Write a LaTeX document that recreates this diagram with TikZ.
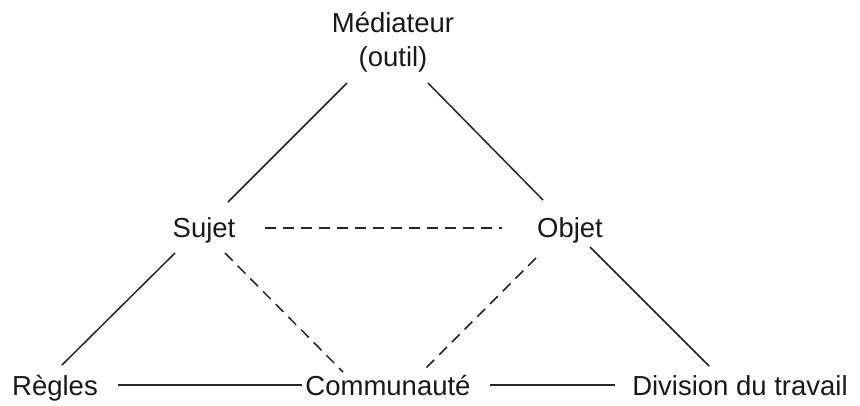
\documentclass[tikz,border=0pt]{standalone}
\usepackage{fontspec}
\setmainfont{Liberation Sans}
\begin{document}
\begin{tikzpicture}[x=1pt,y=-1pt,
  lbl/.style={inner sep=0pt,anchor=base,font=\fontsize{27.5}{34}\selectfont,text=black!90},
  link/.style={line width=1.5pt,draw=black!85},
  dlink/.style={link,dash pattern=on 11pt off 7pt}]
\useasboundingbox[fill=white] (0,0) rectangle (860,405);
\node[lbl,align=center] (med) at (393,66) {Médiateur\\(outil)};
\node[lbl] (sujet) at (204,237) {Sujet};
\node[lbl] (objet) at (570,237) {Objet};
\node[lbl] (regles) at (55,395) {Règles};
\node[lbl] (comm) at (388,395) {Communauté};
\node[lbl] (div) at (740,395) {Division du travail};
\draw[link] ([shift={(-46,17)}]med.base) -- ([shift={(24,-35)}]sujet.base);
\draw[link] ([shift={(35,17)}]med.base) -- ([shift={(-27,-37)}]objet.base);
\draw[dlink] ([shift={(61,-9)}]sujet.base) -- ([shift={(-68,-9)}]objet.base);
\draw[link] ([shift={(-29,16)}]sujet.base) -- ([shift={(7,-30)}]regles.base);
\draw[dlink] ([shift={(21,16)}]sujet.base) -- ([shift={(-45,-23)}]comm.base);
\draw[dlink] ([shift={(-34,21)}]objet.base) -- ([shift={(37,-26)}]comm.base);
\draw[link] ([shift={(20,10)}]objet.base) -- ([shift={(-31,-29)}]div.base);
\draw[link] ([shift={(63,-10)}]regles.base) -- ([shift={(-86,-10)}]comm.base);
\draw[link] ([shift={(102,-10)}]comm.base) -- ([shift={(-125,-10)}]div.base);
\end{tikzpicture}
\end{document}
